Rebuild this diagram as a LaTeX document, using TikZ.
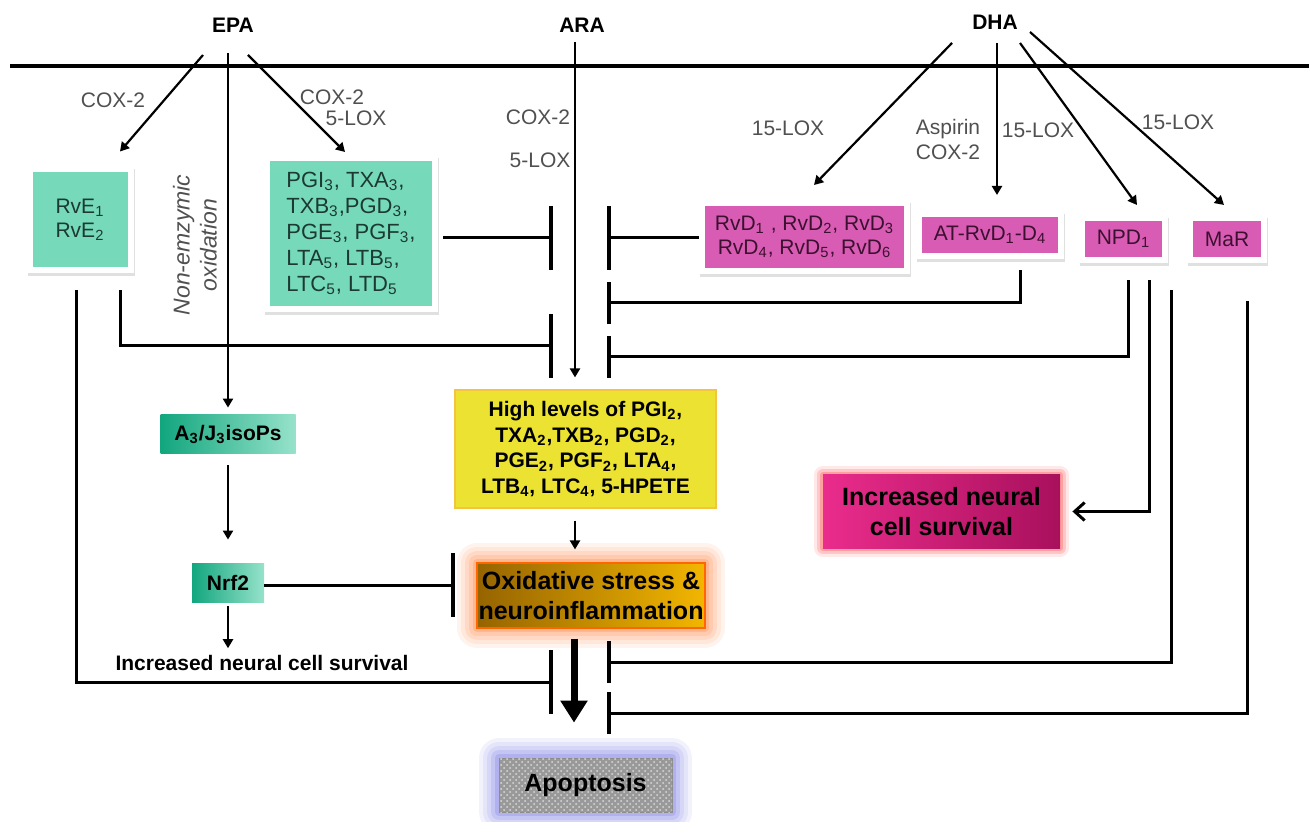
\documentclass[tikz,border=0pt]{standalone}
\usepackage{fontspec}
\setmainfont{Liberation Sans}
\usetikzlibrary{arrows.meta,calc,patterns}
\definecolor{epabox}{RGB}{118,218,186}
\definecolor{epadark}{RGB}{18,166,126}
\definecolor{epalight}{RGB}{150,226,202}
\definecolor{epatext}{RGB}{28,58,50}
\definecolor{dhabox}{RGB}{216,92,180}
\definecolor{dhatext}{RGB}{60,16,48}
\definecolor{lblgray}{RGB}{80,80,80}
\definecolor{yelbox}{RGB}{236,226,50}
\definecolor{yeledge}{RGB}{244,196,60}
\definecolor{oxdark}{RGB}{150,100,0}
\definecolor{oxlight}{RGB}{242,182,0}
\definecolor{oxglow}{RGB}{255,140,80}
\definecolor{svdark}{RGB}{168,16,92}
\definecolor{svlight}{RGB}{234,44,140}
\definecolor{svglow}{RGB}{255,100,100}
\definecolor{apoglow}{RGB}{130,130,230}
\newcommand{\sbn}[1]{\textsubscript{#1}}

\begin{document}
\begin{tikzpicture}[x=0.5pt,y=-0.5pt]
        \tikzset{
            acid/.style={font=\bfseries\fontsize{10.5}{12}\selectfont},
            enz/.style={font=\fontsize{10.5}{12.5}\selectfont, text=lblgray},
            frm/.style={draw=white, line width=3pt,
                preaction={draw=black!12, fill=black!12, line width=3pt,
                    transform canvas={shift={(0.7pt,-1.3pt)}}}},
            ebox/.style={frm, fill=epabox, text=epatext, inner sep=0pt, align=center,
                font=\fontsize{10.5}{12}\selectfont},
            dbox/.style={frm, fill=dhabox, text=dhatext, inner sep=0pt, align=center,
                font=\fontsize{10.5}{12}\selectfont},
            gbox/.style={left color=epadark, right color=epalight, inner sep=0pt,
                font=\bfseries\fontsize{10.5}{12}\selectfont},
            glow/.style={preaction={draw=#1, line width=20pt, opacity=0.1, line join=round},
                preaction={draw=#1, line width=16pt, opacity=0.12, line join=round},
                preaction={draw=#1, line width=12pt, opacity=0.15, line join=round},
                preaction={draw=#1, line width=8pt, opacity=0.2, line join=round},
                preaction={draw=#1, line width=4pt, opacity=0.3, line join=round}},
            halo/.style={preaction={draw=#1, line width=9pt, opacity=0.15, line join=round},
                preaction={draw=#1, line width=6pt, opacity=0.25, line join=round},
                preaction={draw=#1, line width=3pt, opacity=0.4, line join=round}},
            big/.style={font=\bfseries\fontsize{12.5}{15}\selectfont, inner sep=0pt, align=center},
            arr/.style={-{Triangle[length=4.5pt,width=5pt]}, line width=1.1pt},
            inh/.style={-{Bar[width=32pt,line width=2pt]}, line width=1.5pt},
            inhs/.style={-{Bar[width=21pt,line width=2pt]}, line width=1.5pt}
            }
            \useasboundingbox (0,0) rectangle (1309,822);

            % fatty acids and membrane
            \node[acid] (epa) at (233,25) {EPA};
            \node[acid] (ara) at (582,25) {ARA};
            \node[acid] (dha) at (995,22) {DHA};
            \draw[line width=2pt] (10,66) -- (1309,66);

            % EPA side
            \node[ebox, minimum width=50.5pt, minimum height=50.5pt] (rve) at (80,220) {RvE\sbn{1}\\RvE\sbn{2}};
            \node[ebox, minimum width=84pt, minimum height=75.5pt, align=left,
                font=\fontsize{11}{13}\selectfont] (pgt) at (351,233.5)
                {PGI\sbn{3}, TXA\sbn{3},\\TXB\sbn{3},PGD\sbn{3},\\PGE\sbn{3}, PGF\sbn{3},\\LTA\sbn{5}, LTB\sbn{5},\\LTC\sbn{5}, LTD\sbn{5}};
            \node[gbox, minimum width=67.5pt, minimum height=19.5pt] (a3) at (228,434.5) {A\sbn{3}/J\sbn{3}isoPs};
            \node[gbox, minimum width=36pt, minimum height=19.5pt] (nrf) at (228,582.5) {Nrf2};
            \node[acid] (sv1) at (262,663) {Increased neural cell survival};

            % ARA side
            \node[fill=yelbox, draw=yeledge, line width=0.6pt, minimum width=130.5pt, minimum height=59pt,
                align=center, font=\bfseries\fontsize{10.5}{12.8}\selectfont] (yel) at (585.5,449)
                {High levels of PGI\sbn{2},\\TXA\sbn{2},TXB\sbn{2}, PGD\sbn{2},\\PGE\sbn{2}, PGF\sbn{2}, LTA\sbn{4},\\LTB\sbn{4}, LTC\sbn{4}, 5-HPETE};
            \node[big, glow=oxglow, left color=oxdark, right color=oxlight, draw=orange!80!red, line width=0.6pt,
                minimum width=114pt, minimum height=32.5pt] (oxi) at (591,595.5) {Oxidative stress \&\\neuroinflammation};
            \node[big, glow=apoglow, fill=black!40, postaction={pattern=crosshatch dots, pattern color=black!15},
                draw=black!45, minimum width=86.5pt, minimum height=27pt] (apo) at (585.5,785) {Apoptosis};

            % DHA side
            \node[dbox, minimum width=102.5pt, minimum height=34pt] (rvd) at (804.5,237)
                {RvD\sbn{1} , RvD\sbn{2}, RvD\sbn{3}\\RvD\sbn{4}, RvD\sbn{5}, RvD\sbn{6}};
            \node[dbox, minimum width=71pt, minimum height=21pt] (atr) at (990,235) {AT-RvD\sbn{1}-D\sbn{4}};
            \node[dbox, minimum width=41.5pt, minimum height=21pt] (npd) at (1123.5,239) {NPD\sbn{1}};
            \node[dbox, minimum width=37pt, minimum height=21pt] (mar) at (1227,239) {MaR};
            \node[big, halo=svglow, left color=svlight, right color=svdark,
                minimum width=118.5pt, minimum height=36.5pt] (sv2) at (941.5,511.5) {Increased neural\\cell survival};

            % enzyme labels
            \node[enz] (c1) at (113,100) {COX-2};
            \node[enz] (c2) at (332,97) {COX-2};
            \node[enz] (l1) at (356,118) {5-LOX};
            \node[enz] (c3) at (538,117) {COX-2};
            \node[enz] (l2) at (540,160) {5-LOX};
            \node[enz] (l3) at (788,128) {15-LOX};
            \node[enz, align=center] (asp) at (948,140) {Aspirin\\COX-2};
            \node[enz] (l4) at (1038,130) {15-LOX};
            \node[enz] (l5) at (1178,122) {15-LOX};
            \node[enz, font=\itshape\fontsize{11.5}{13.5}\selectfont, rotate=90, align=center] (ox) at (195,245)
                {Non-emzymic\\oxidation};

            % bar ends
            \coordinate (bl1) at (553,238);
            \coordinate (bl2) at (553,346);
            \coordinate (bl3) at (553,682);
            \coordinate (bn) at (455,585);
            \coordinate (br1) at (607,238);
            \coordinate (br2) at (607,303);
            \coordinate (br3) at (607,357);
            \coordinate (br4) at (607,662);
            \coordinate (br5) at (607,713);

            \draw[arr] ($(epa)+(-30,30)$) -- ($(rve.north)+(40,-15)$);
            \draw[arr] ($(epa)+(-5,28)$) -- ($(a3.north)+(0,-7)$);
            \draw[arr] ($(epa)+(15,30)$) -- ($(pgt.north)+(-6,-3)$);
            \draw[arr] ($(ara)+(-7,17)$) -- ($(yel.north)+(-10.5,-12)$);
            \draw[arr] ($(yel.south)+(-10.5,12)$) -- ($(oxi.north)+(-16,-13)$);
            \draw[-{Triangle[length=11pt,width=13pt]}, line width=3.5pt] ($(oxi.south)+(-17,10)$) -- ($(apo.north)+(-11.5,-35)$);
            \draw[arr] ($(a3.south)+(0,11)$) -- ($(nrf.north)+(0,-23)$);
            \draw[arr] ($(nrf.south)+(0,4)$) -- ($(sv1.north)+(-34,0)$);
            \draw[arr] ($(dha)+(-43,21)$) -- ($(rvd.north)+(9.5,-15)$);
            \draw[arr] ($(dha)+(2,21)$) -- ($(atr.north)+(7,-16)$);
            \draw[arr] ($(dha)+(25,21)$) -- ($(npd.north)+(13.5,-10)$);
            \draw[arr] ($(dha)+(35,10)$) -- ($(mar.north)+(-3,-10)$);

            \draw[inh] ($(pgt.east |- bl1)+(5,0)$) -- (bl1);
            \draw[inh] (rvd.west |- br1) -- (br1);
            \draw[inhs] ($(atr.south)+(30,11)$) |- (br2);
            \draw[inh] ($(rve.south)+(40,17)$) |- (bl2);
            \draw[inhs] ($(npd.south)+(4.5,17)$) |- (br3);
            \draw[inh] (nrf.east |- bn) -- (bn);
            \draw[inh] ($(rve.south)+(-4,17)$) |- (bl3);
            \draw[inhs] ($(npd.south)+(47.5,27)$) |- (br4);
            \draw[inhs] ($(mar.south)+(20,38)$) |- (br5);
            \draw[-{Straight Barb[length=5pt,width=9pt]}, line width=1.5pt] ($(npd.south)+(25.5,17)$) |- ($(sv2.east)+(12,0)$);
\end{tikzpicture}
\end{document}
